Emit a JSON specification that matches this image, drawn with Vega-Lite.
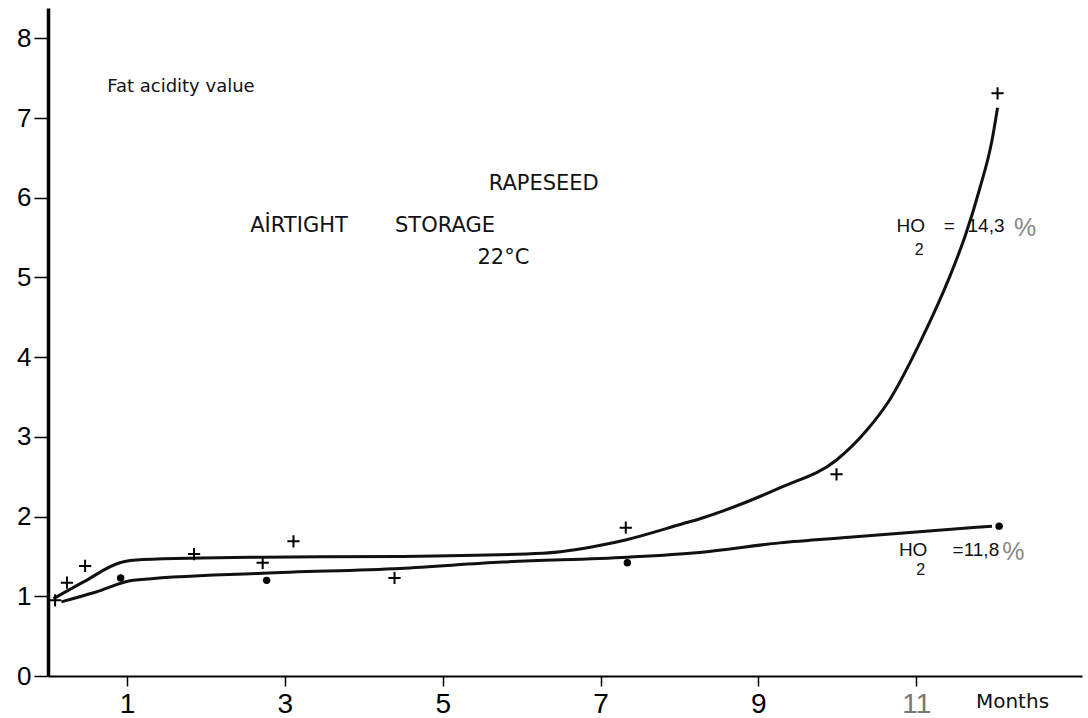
{
  "$schema": "https://vega.github.io/schema/vega-lite/v6.json",
  "width": 1034,
  "height": 668,
  "autosize": "none",
  "padding": {"left": 48, "top": 8, "right": 6, "bottom": 42},
  "background": "white",
  "config": {"view": {"stroke": null}, "font": "Liberation Sans"},
  "datasets": {
    "curves": [
      {"series": "14,3 %", "month": 0.07, "value": 0.97},
      {"series": "14,3 %", "month": 0.45, "value": 1.18},
      {"series": "14,3 %", "month": 0.91, "value": 1.42},
      {"series": "14,3 %", "month": 1.2, "value": 1.46},
      {"series": "14,3 %", "month": 2.72, "value": 1.49},
      {"series": "14,3 %", "month": 4.46, "value": 1.5},
      {"series": "14,3 %", "month": 6.27, "value": 1.54},
      {"series": "14,3 %", "month": 7.0, "value": 1.64},
      {"series": "14,3 %", "month": 7.33, "value": 1.71},
      {"series": "14,3 %", "month": 8.04, "value": 1.91},
      {"series": "14,3 %", "month": 8.25, "value": 1.97},
      {"series": "14,3 %", "month": 9.27, "value": 2.36},
      {"series": "14,3 %", "month": 9.99, "value": 2.71},
      {"series": "14,3 %", "month": 10.37, "value": 3.08},
      {"series": "14,3 %", "month": 10.66, "value": 3.46},
      {"series": "14,3 %", "month": 11.08, "value": 4.25},
      {"series": "14,3 %", "month": 11.42, "value": 5.0},
      {"series": "14,3 %", "month": 11.63, "value": 5.55},
      {"series": "14,3 %", "month": 11.8, "value": 6.1},
      {"series": "14,3 %", "month": 11.96, "value": 6.72},
      {"series": "14,3 %", "month": 12.03, "value": 7.13},
      {"series": "11,8 %", "month": 0.17, "value": 0.93},
      {"series": "11,8 %", "month": 0.6, "value": 1.05},
      {"series": "11,8 %", "month": 1.08, "value": 1.2},
      {"series": "11,8 %", "month": 2.72, "value": 1.29},
      {"series": "11,8 %", "month": 4.46, "value": 1.35},
      {"series": "11,8 %", "month": 5.76, "value": 1.43},
      {"series": "11,8 %", "month": 7.34, "value": 1.49},
      {"series": "11,8 %", "month": 8.25, "value": 1.55},
      {"series": "11,8 %", "month": 9.27, "value": 1.67},
      {"series": "11,8 %", "month": 10.15, "value": 1.74},
      {"series": "11,8 %", "month": 11.96, "value": 1.88}
    ],
    "plus": [
      {"month": 0.09, "value": 0.95},
      {"month": 0.24, "value": 1.17},
      {"month": 0.47, "value": 1.38},
      {"month": 1.85, "value": 1.53},
      {"month": 2.72, "value": 1.42},
      {"month": 3.11, "value": 1.69},
      {"month": 4.39, "value": 1.23},
      {"month": 7.32, "value": 1.86},
      {"month": 9.99, "value": 2.53},
      {"month": 12.03, "value": 7.31}
    ],
    "dots": [
      {"month": 0.92, "value": 1.23},
      {"month": 2.77, "value": 1.2},
      {"month": 7.34, "value": 1.42},
      {"month": 12.05, "value": 1.88}
    ]
  },
  "layer": [
    {
      "data": {"name": "curves"},
      "mark": {"type": "line", "interpolate": "monotone", "color": "#111", "strokeWidth": 3},
      "encoding": {
        "x": {
          "field": "month", "type": "quantitative",
          "scale": {"domain": [0, 13.1], "nice": false, "zero": false},
          "axis": {
            "values": [1, 3, 5, 7, 9, 11], "format": "d", "grid": false,
            "domainColor": "black", "domainWidth": 2,
            "tickColor": "black", "tickSize": 10, "tickWidth": 1.5,
            "labelFontSize": 28, "labelColor": {"condition": {"test": "datum.value == 11", "value": "#777"}, "value": "black"},
            "labelPadding": 4, "labelFont": "Liberation Sans",
            "title": "Months", "titleFont": "DejaVu Sans", "titleFontSize": 20, "titleFontWeight": "normal",
            "titleX": 964, "titleY": 25, "titleAlign": "center", "titleBaseline": "middle", "titleColor": "#111"
          }
        },
        "y": {
          "field": "value", "type": "quantitative",
          "scale": {"domain": [0, 8.38], "nice": false, "zero": false},
          "axis": {
            "values": [0, 1, 2, 3, 4, 5, 6, 7, 8], "format": "d", "grid": false,
            "domainColor": "black", "domainWidth": 3.5,
            "tickColor": "black", "tickSize": 14, "tickWidth": 1.5,
            "labelFontSize": 26, "labelColor": "black", "labelPadding": 3,
            "labelFont": "Liberation Sans", "title": null
          }
        },
        "detail": {"field": "series"}
      }
    },
    {
      "data": {"name": "plus"},
      "mark": {"type": "point", "shape": "M-1,0L1,0M0,-1L0,1", "filled": false, "stroke": "black", "strokeWidth": 2, "size": 150, "opacity": 1},
      "encoding": {
        "x": {"field": "month", "type": "quantitative"},
        "y": {"field": "value", "type": "quantitative"}
      }
    },
    {
      "data": {"name": "dots"},
      "mark": {"type": "point", "shape": "circle", "filled": true, "color": "black", "size": 55, "opacity": 1},
      "encoding": {
        "x": {"field": "month", "type": "quantitative"},
        "y": {"field": "value", "type": "quantitative"}
      }
    },
    {
      "data": {"values": [{"label": "Fat acidity value", "month": 0.75, "value": 7.39}]},
      "mark": {"type": "text", "font": "DejaVu Sans", "fontSize": 18, "align": "left", "baseline": "middle", "color": "#111"},
      "encoding": {
        "x": {"field": "month", "type": "quantitative"},
        "y": {"field": "value", "type": "quantitative"},
        "text": {"field": "label"}
      }
    },
    {
      "data": {"values": [
        {"label": "RAPESEED", "month": 6.28, "value": 6.17},
        {"label": "AİRTIGHT", "month": 3.18, "value": 5.64},
        {"label": "STORAGE", "month": 5.03, "value": 5.64},
        {"label": "22°C", "month": 5.77, "value": 5.25}
      ]},
      "mark": {"type": "text", "font": "DejaVu Sans", "fontSize": 21, "align": "center", "baseline": "middle", "color": "#111"},
      "encoding": {
        "x": {"field": "month", "type": "quantitative"},
        "y": {"field": "value", "type": "quantitative"},
        "text": {"field": "label"}
      }
    },
    {
      "data": {"values": [
        {"label": "HO", "month": 10.75, "value": 5.64},
        {"label": "=", "month": 11.35, "value": 5.64},
        {"label": "14,3", "month": 11.65, "value": 5.64},
        {"label": "HO", "month": 10.78, "value": 1.575},
        {"label": "=11,8", "month": 11.46, "value": 1.575}
      ]},
      "mark": {"type": "text", "font": "Liberation Sans", "fontSize": 19, "align": "left", "baseline": "middle", "color": "#111"},
      "encoding": {
        "x": {"field": "month", "type": "quantitative"},
        "y": {"field": "value", "type": "quantitative"},
        "text": {"field": "label"}
      }
    },
    {
      "data": {"values": [
        {"label": "2", "month": 10.98, "value": 5.35},
        {"label": "2", "month": 11.0, "value": 1.33}
      ]},
      "mark": {"type": "text", "font": "Liberation Sans", "fontSize": 16, "align": "left", "baseline": "middle", "color": "#111"},
      "encoding": {
        "x": {"field": "month", "type": "quantitative"},
        "y": {"field": "value", "type": "quantitative"},
        "text": {"field": "label"}
      }
    },
    {
      "data": {"values": [
        {"label": "%", "month": 12.24, "value": 5.62},
        {"label": "%", "month": 12.09, "value": 1.555}
      ]},
      "mark": {"type": "text", "font": "Liberation Sans", "fontSize": 25, "align": "left", "baseline": "middle", "color": "#888"},
      "encoding": {
        "x": {"field": "month", "type": "quantitative"},
        "y": {"field": "value", "type": "quantitative"},
        "text": {"field": "label"}
      }
    }
  ]
}
